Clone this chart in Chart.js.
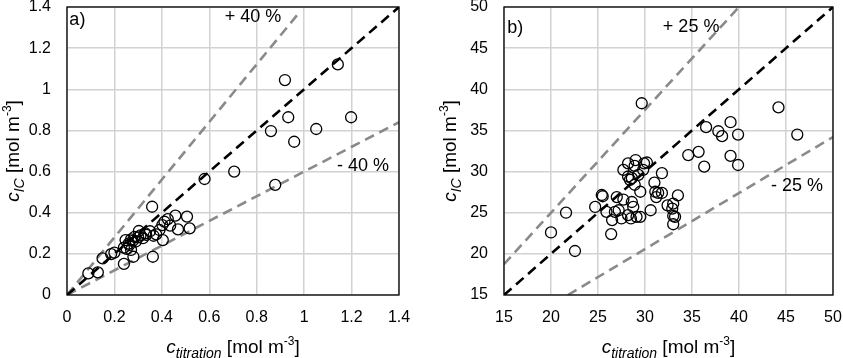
<!DOCTYPE html>
<html>
<head>
<meta charset="utf-8">
<script src="https://cdn.jsdelivr.net/npm/chart.js@4"></script>
<style>
  html, body { margin: 0; padding: 0; background: #fff; }
  #wrap { position: relative; width: 843px; height: 358px; }
  #wrap canvas { position: absolute; top: 0; }
</style>
</head>
<body>
<div id="wrap">
  <canvas id="chartA" width="421" height="358" style="left:0"></canvas>
  <canvas id="chartB" width="422" height="358" style="left:421px"></canvas>
</div>
<script>
// panel a) data
const aTitration = [0.09, 0.13, 0.15, 0.186, 0.20, 0.24, 0.247, 0.252, 0.263, 0.27, 0.277, 0.28, 0.285,
  0.24, 0.26, 0.29, 0.30, 0.27, 0.31, 0.33, 0.35,
  0.303, 0.32, 0.334, 0.359, 0.362, 0.365, 0.376, 0.39, 0.402, 0.404, 0.411, 0.425, 0.435, 0.457,
  0.468, 0.506, 0.517, 0.58, 0.705, 0.86, 0.878, 0.919, 0.933, 0.958, 1.051, 1.142, 1.198];
const aIC = [0.105, 0.11, 0.178, 0.199, 0.206, 0.151, 0.267, 0.224, 0.243, 0.219, 0.263, 0.186, 0.283,
  0.23, 0.25, 0.26, 0.28, 0.27, 0.29, 0.30, 0.31,
  0.311, 0.276, 0.292, 0.429, 0.186, 0.288, 0.295, 0.316, 0.34, 0.267, 0.356, 0.369, 0.337, 0.386,
  0.319, 0.381, 0.324, 0.564, 0.60, 0.797, 0.535, 1.045, 0.864, 0.745, 0.807, 1.121, 0.864];

// panel b) data
const bTitration = [20.0, 21.6, 22.55, 24.7, 25.4, 25.5, 26.4, 25.9, 26.5, 26.8, 27.0, 27.7, 27.2, 27.5,
  28.2, 28.6, 28.75, 28.5, 29.1, 29.5, 30.6, 29.5, 28.9, 28.4, 28.6, 28.2, 27.7, 28.2, 29.0, 28.9,
  29.9, 30.2, 29.8, 29.3, 31.0, 31.8, 31.1, 31.4, 31.2, 31.8, 32.4, 33.0, 33.5, 32.9, 33.0, 33.0,
  33.2, 29.65, 34.6, 35.7, 36.3, 36.5, 37.8, 38.2, 39.1, 39.1, 39.9, 39.9, 44.2, 46.2];
const bIC = [22.6, 25.0, 20.35, 25.7, 27.15, 27.0, 22.4, 25.1, 24.1, 25.1, 26.9, 26.6, 25.3, 24.3,
  24.7, 26.3, 25.7, 24.3, 24.5, 24.5, 25.3, 27.55, 28.4, 29.0, 29.2, 29.4, 30.2, 31.0, 31.4, 30.7,
  31.0, 31.1, 30.2, 29.6, 28.65, 29.8, 27.55, 27.4, 26.9, 27.4, 25.9, 26.1, 27.1, 25.5, 24.6, 23.6,
  24.5, 38.3, 32.0, 32.4, 30.6, 35.4, 34.9, 34.3, 36.0, 31.9, 34.5, 30.8, 37.8, 34.5];

// tick labels
const aTicks = ['0', '0.2', '0.4', '0.6', '0.8', '1', '1.2', '1.4'];
const bTicks = ['15', '20', '25', '30', '35', '40', '45', '50'];

// reference lines (x, y end points)
const aOneToOne = [[0, 0], [1.4, 1.4]];
const aPlus40 = [[0, 0], [0.97, 1.36]];
const aMinus40 = [[0, 0], [1.4, 0.84]];
const bOneToOne = [[15, 15], [50, 50]];
const bPlus25 = [[15, 18.75], [40, 50]];
const bMinus25 = [[21.8, 15], [50, 34.2]];

const FONT = '"Liberation Sans", Arial, sans-serif';

const toPts = (xs, ys) => xs.map((x, i) => ({ x: x, y: ys[i] }));
const toLine = (arr) => arr.map(p => ({ x: p[0], y: p[1] }));

function drawRich(ctx, parts, x, y) {
  let w = 0;
  parts.forEach(p => { ctx.font = p.font; w += ctx.measureText(p.t).width; });
  let cx = x - w / 2;
  ctx.textAlign = 'left';
  ctx.textBaseline = 'alphabetic';
  parts.forEach(p => {
    ctx.font = p.font;
    ctx.fillText(p.t, cx, y + (p.dy || 0));
    cx += ctx.measureText(p.t).width;
  });
}

function titleParts(sub) {
  return [
    { t: 'c', font: 'italic 19px ' + FONT },
    { t: sub, font: 'italic 14px ' + FONT, dy: 5 },
    { t: ' [mol m', font: '19px ' + FONT },
    { t: '-3', font: '12px ' + FONT, dy: -8 },
    { t: ']', font: '19px ' + FONT }
  ];
}

const decorPlugin = {
  id: 'decor',
  afterDatasetsDraw(chart, args, opts) {
    const ctx = chart.ctx;
    const area = chart.chartArea;
    const xs = chart.scales.x, ys = chart.scales.y;
    ctx.save();
    ctx.strokeStyle = '#000';
    ctx.lineWidth = 1.3;
    ctx.strokeRect(area.left, area.top, area.right - area.left, area.bottom - area.top);
    ctx.fillStyle = '#000';
    ctx.font = '18px ' + FONT;
    ctx.textAlign = 'left';
    ctx.textBaseline = 'middle';
    opts.labels.forEach(l => {
      ctx.fillText(l.text, xs.getPixelForValue(l.x), ys.getPixelForValue(l.y));
    });
    // axis titles
    drawRich(ctx, titleParts('titration'), (area.left + area.right) / 2, 353);
    ctx.translate(area.left - 48, (area.top + area.bottom) / 2);
    ctx.rotate(-Math.PI / 2);
    drawRich(ctx, titleParts('IC'), 0, 0);
    ctx.restore();
  }
};

function makeChart(id, pts, lines, range, step, ticks, labels, padRight, yWidth) {
  return new Chart(document.getElementById(id), {
    type: 'scatter',
    data: {
      datasets: [
        {
          data: pts,
          pointStyle: 'circle',
          pointRadius: 5.5,
          pointBorderWidth: 1.3,
          pointBorderColor: '#000',
          pointBackgroundColor: 'rgba(0,0,0,0)',
          order: 0
        },
        {
          type: 'line', data: toLine(lines[0]), borderColor: '#000', borderWidth: 2.6,
          borderDash: [10, 6], pointRadius: 0, fill: false, order: 1
        },
        {
          type: 'line', data: toLine(lines[1]), borderColor: '#8a8a8a', borderWidth: 2.6,
          borderDash: [10, 6], pointRadius: 0, fill: false, order: 2
        },
        {
          type: 'line', data: toLine(lines[2]), borderColor: '#8a8a8a', borderWidth: 2.6,
          borderDash: [10, 6], pointRadius: 0, fill: false, order: 3
        }
      ]
    },
    options: {
      responsive: false,
      animation: false,
      layout: { padding: { left: 0, right: padRight, top: 7, bottom: 0 } },
      plugins: {
        legend: { display: false },
        tooltip: { enabled: false },
        decor: { labels: labels }
      },
      scales: {
        x: {
          type: 'linear', min: range[0], max: range[1],
          afterFit: s => { s.height = 63; s.paddingLeft = 0; s.paddingRight = 0; },
          grid: { color: '#d2d2d2', lineWidth: 1.5, drawTicks: false },
          border: { display: false },
          ticks: {
            stepSize: step, padding: 13, color: '#000', maxRotation: 0,
            font: { family: FONT, size: 16 },
            callback: (v, i) => ticks[i]
          }
        },
        y: {
          type: 'linear', min: range[0], max: range[1],
          afterFit: s => { s.width = yWidth; s.paddingTop = 0; s.paddingBottom = 0; },
          grid: { color: '#d2d2d2', lineWidth: 1.5, drawTicks: false },
          border: { display: false },
          ticks: {
            stepSize: step, padding: 16, color: '#000',
            font: { family: FONT, size: 16 },
            callback: (v, i) => ticks[i]
          }
        }
      }
    },
    plugins: [decorPlugin]
  });
}

makeChart('chartA', toPts(aTitration, aIC), [aOneToOne, aPlus40, aMinus40], [0, 1.4], 0.2, aTicks,
  [{ text: 'a)', x: 0.01, y: 1.337 }, { text: '+ 40 %', x: 0.665, y: 1.35 }, { text: '- 40 %', x: 1.139, y: 0.627 }], 22, 67);
makeChart('chartB', toPts(bTitration, bIC), [bOneToOne, bPlus25, bMinus25], [15, 50], 5, bTicks,
  [{ text: 'b)', x: 15.35, y: 47.4 }, { text: '+ 25 %', x: 31.9, y: 47.6 }, { text: '- 25 %', x: 43.4, y: 28.2 }], 10, 83);
</script>
</body>
</html>
